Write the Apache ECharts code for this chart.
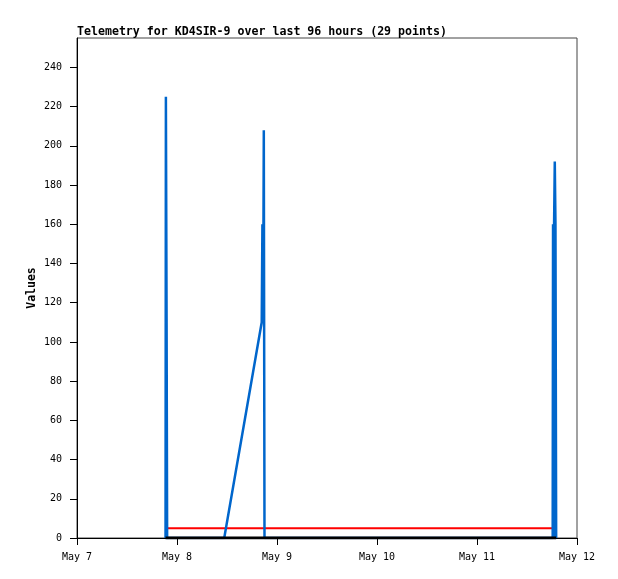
<!DOCTYPE html>
<html>
<head>
<meta charset="utf-8">
<script src="https://cdn.jsdelivr.net/npm/echarts@6/dist/echarts.min.js"></script>
<style>html,body{margin:0;padding:0;background:#fff}#c{width:618px;height:579px}</style>
</head>
<body>
<div id="c"></div>
<script>
const titleText = 'Telemetry for KD4SIR-9 over last 96 hours (29 points)';
const yName = 'Values';
const times = [
  '2024-05-07 21:15','2024-05-07 21:20','2024-05-07 21:30','2024-05-07 21:38','2024-05-08 04:00',
  '2024-05-08 11:20','2024-05-08 20:20','2024-05-08 20:30','2024-05-08 20:40','2024-05-08 20:50',
  '2024-05-08 21:00','2024-05-09 04:00','2024-05-09 10:00','2024-05-09 16:00','2024-05-09 22:00',
  '2024-05-10 04:00','2024-05-10 10:00','2024-05-10 16:00','2024-05-10 22:00','2024-05-11 04:00',
  '2024-05-11 10:00','2024-05-11 16:00','2024-05-11 18:10','2024-05-11 18:15','2024-05-11 18:25',
  '2024-05-11 18:30','2024-05-11 18:40','2024-05-11 18:50','2024-05-11 19:00'
];
const blueValues = [0,225,112,0,0, 0,110,160,112,208, 0,0,0,0,0, 0,0,0,0,0, 0,0,0,160,0, 160,192,160,0];
const redValues  = [null,null,null,5,5, 5,5,5,5,5, 5,5,5,5,5, 5,5,5,5,5, 5,5,5,5,5, 5,5,5,5];
const blackValues= [0,0,0,0,0, 0,0,0,0,0, 0,0,0,0,0, 0,0,0,0,0, 0,0,0,0,0, 0,0,0,0];
const xStart = '2024-05-07 00:00', xEnd = '2024-05-12 00:00';
const monthName = 'May';

function ts(s){ const [d,t]=s.split(' '); const [Y,M,D]=d.split('-').map(Number); const [h,m]=t.split(':').map(Number); return Date.UTC(Y,M-1,D,h,m); }
function pairs(vals){ return times.map((t,i)=>[ts(t), vals[i]]); }

const chart = echarts.init(document.getElementById('c'), null, {renderer:'canvas'});
const mono = 'DejaVu Sans Mono';
chart.setOption({
  animation:false,
  title:{text:titleText,left:72,top:21,textStyle:{fontFamily:mono,fontSize:11.6,fontWeight:'bold',color:'#000'}},
  grid:{left:77,top:38,right:41,bottom:41,show:true,borderColor:'#444',borderWidth:1,backgroundColor:'transparent'},
  xAxis:{type:'value',min:ts(xStart),max:ts(xEnd),interval:86400000,
    axisLine:{show:true,lineStyle:{color:'#000',width:1}},
    axisTick:{show:true,length:7,lineStyle:{color:'#000'}},
    splitLine:{show:false},
    axisLabel:{fontFamily:mono,fontSize:10,color:'#000',margin:14,showMinLabel:true,showMaxLabel:true,
      formatter:v=>monthName+' '+new Date(v).getUTCDate()}},
  yAxis:{type:'value',min:0,max:255,interval:20,name:yName,nameLocation:'middle',nameGap:39,nameMoveOverlap:false,
    nameTextStyle:{fontFamily:mono,fontSize:11.5,fontWeight:'bold',color:'#000'},
    axisLine:{show:true,lineStyle:{color:'#000',width:1}},
    axisTick:{show:true,length:7,lineStyle:{color:'#000'}},
    splitLine:{show:false},
    axisLabel:{fontFamily:mono,fontSize:10,color:'#000',margin:15,showMaxLabel:false,
      formatter:v=>v>250?'':String(v)}},
  series:[
    {type:'line',data:pairs(redValues),showSymbol:false,symbol:'none',lineStyle:{color:'#ff0000',width:2},z:1},
    {type:'line',data:pairs(blueValues),showSymbol:false,symbol:'none',lineStyle:{color:'#0066cc',width:2.5},z:2},
    {type:'line',data:pairs(blackValues),showSymbol:false,symbol:'none',lineStyle:{color:'#000',width:3},z:3}
  ]
});
</script>
</body>
</html>
